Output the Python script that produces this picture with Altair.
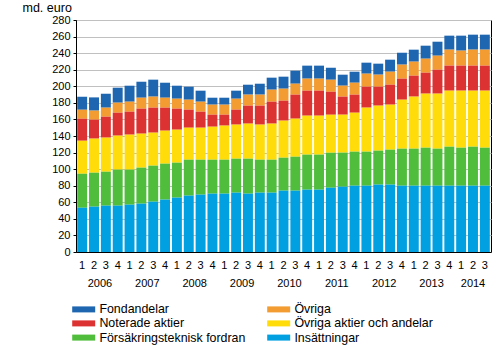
import altair as alt
import pandas as pd

years = ["2006", "2007", "2008", "2009", "2010", "2011", "2012", "2013", "2014"]
quarters_per_year = [4, 4, 4, 4, 4, 4, 4, 4, 3]

insattningar = [53.5, 54.7, 55.9, 55.9, 57.1, 58.3, 60.7, 63.2, 65.6, 68.0, 69.2, 70.4, 70.4, 71.6, 70.4,
                71.6, 71.6, 74.0, 74.0, 75.2, 75.2, 77.6, 78.8, 80.0, 80.0, 81.3, 81.3, 80.0, 80.0, 80.0,
                80.0, 80.0, 80.0, 80.0, 80.0]
forsakring = [41.0, 41.0, 41.0, 43.5, 42.3, 43.5, 43.5, 43.4, 42.2, 43.4, 42.2, 41.0, 41.0, 41.0, 42.2,
              39.8, 39.8, 39.8, 41.0, 42.3, 42.3, 42.3, 41.1, 41.1, 41.1, 41.0, 42.2, 44.7, 44.7, 45.9,
              44.7, 47.1, 45.9, 47.1, 45.9]
ovriga_aktier = [39.9, 41.1, 41.1, 41.0, 42.2, 41.0, 39.8, 39.8, 39.8, 38.6, 38.6, 39.8, 41.1, 41.1, 42.3,
                 42.3, 43.5, 44.7, 45.9, 47.0, 47.0, 45.8, 45.8, 47.0, 53.1, 54.3, 54.3, 59.1, 62.8, 65.2,
                 66.4, 67.6, 68.8, 67.6, 68.8]
noterade = [26.5, 22.9, 25.3, 27.7, 27.7, 30.2, 30.2, 27.8, 25.4, 21.8, 19.3, 14.5, 13.2, 18.1, 21.7,
            22.9, 26.5, 24.1, 29.0, 30.2, 30.2, 27.8, 21.8, 21.8, 25.3, 22.9, 24.1, 25.4, 25.3, 25.3,
            28.9, 30.2, 30.2, 30.2, 30.2]
ovriga = [10.9, 10.9, 10.9, 12.1, 12.1, 13.2, 13.3, 12.0, 12.0, 12.0, 12.1, 12.1, 12.1, 13.2, 13.3,
          13.3, 14.5, 14.5, 13.2, 14.5, 14.5, 14.5, 13.2, 14.4, 15.7, 14.5, 15.7, 16.9, 16.9, 16.9,
          16.9, 19.3, 18.1, 19.3, 19.3]
fondandelar = [15.7, 16.0, 16.8, 18.1, 19.3, 19.3, 20.5, 18.1, 15.7, 15.7, 13.3, 8.4, 8.4, 9.7, 12.0,
               13.2, 14.5, 14.5, 15.7, 15.7, 15.7, 14.4, 13.3, 13.3, 13.3, 13.3, 14.5, 14.4, 14.5, 15.7,
               16.9, 16.9, 18.1, 18.1, 18.1]

series_names = ["Fondandelar", "Övriga", "Noterade aktier", "Övriga aktier och andelar",
                "Försäkringsteknisk fordran", "Insättningar"]
series_values = [fondandelar, ovriga, noterade, ovriga_aktier, forsakring, insattningar]
colors = ["#1f66b0", "#f39c32", "#dc3232", "#ffdc0a", "#50be3c", "#00a0e1"]

periods = []
for y, n in zip(years, quarters_per_year):
    for q in range(1, n + 1):
        periods.append(f"{y}-{q}")

rows = []
for rank, (name, vals) in enumerate(zip(series_names, series_values)):
    for p, v in zip(periods, vals):
        rows.append({"period": p, "series": name, "value": v, "rank": len(series_names) - rank})
df = pd.DataFrame(rows)

full_years = pd.DataFrame({"period": [f"{y}-2" for y, n in zip(years, quarters_per_year) if n == 4],
                           "year": [y for y, n in zip(years, quarters_per_year) if n == 4]})
part_years = pd.DataFrame({"period": [f"{y}-2" for y, n in zip(years, quarters_per_year) if n < 4],
                           "year": [y for y, n in zip(years, quarters_per_year) if n < 4]})

FONT = "Liberation Sans"
W, H = 415, 232

xenc = alt.X("period:O", sort=periods,
             scale=alt.Scale(domain=periods, paddingInner=0.16, paddingOuter=0.1),
             axis=alt.Axis(title=None, labelAngle=0, labelExpr="substring(datum.label, 5)",
                           ticks=False, domainColor="black", labelPadding=7,
                           labelFontSize=11, labelColor="black", labelFont=FONT))

bars = alt.Chart(df).mark_bar().encode(
    x=xenc,
    y=alt.Y("value:Q", stack="zero",
            scale=alt.Scale(domain=[0, 280], nice=False),
            axis=alt.Axis(values=list(range(0, 281, 20)), title="md. euro", titleAngle=0,
                          titleAlign="left", titleBaseline="middle", titleX=-54, titleY=-13,
                          titleFontSize=12.5, titleFontWeight="normal", titleFont=FONT, titleColor="black",
                          grid=True, gridColor="#c0c0c0", gridWidth=1, tickSize=3, tickColor="black",
                          labelPadding=3, domainColor="black", labelFontSize=11,
                          labelColor="black", labelFont=FONT)),
    color=alt.Color("series:N",
                    scale=alt.Scale(domain=series_names, range=colors),
                    legend=alt.Legend(title=None, orient="none", legendX=1.5, legendY=283,
                                      columns=2, direction="horizontal", columnPadding=21, rowPadding=1.2,
                                      symbolType="M-1.917,-0.5H1.917V0.5H-1.917Z", symbolSize=144,
                                      symbolStrokeWidth=0, labelFontSize=12.4, labelFont=FONT,
                                      labelColor="black", labelOffset=9.5, padding=0,
                                      labelLimit=300)),
    order=alt.Order("rank:Q", sort="ascending"),
)

yr_full = alt.Chart(full_years).mark_text(xOffset=5.93, baseline="middle", fontSize=11,
                                          font=FONT, color="black").encode(
    x=alt.X("period:O", sort=periods), y=alt.value(H + 32), text="year:N")
yr_part = alt.Chart(part_years).mark_text(baseline="middle", fontSize=11,
                                          font=FONT, color="black").encode(
    x=alt.X("period:O", sort=periods), y=alt.value(H + 32), text="year:N")

chart = alt.layer(bars, yr_full, yr_part).properties(
    width=W, height=H,
    autosize=alt.AutoSizeParams(type="none"),
    padding={"left": 76, "top": 20, "right": 9, "bottom": 98},
).configure_view(stroke="black", strokeWidth=1)

chart.save("out.html", embed_options={"renderer": "svg", "actions": False})
